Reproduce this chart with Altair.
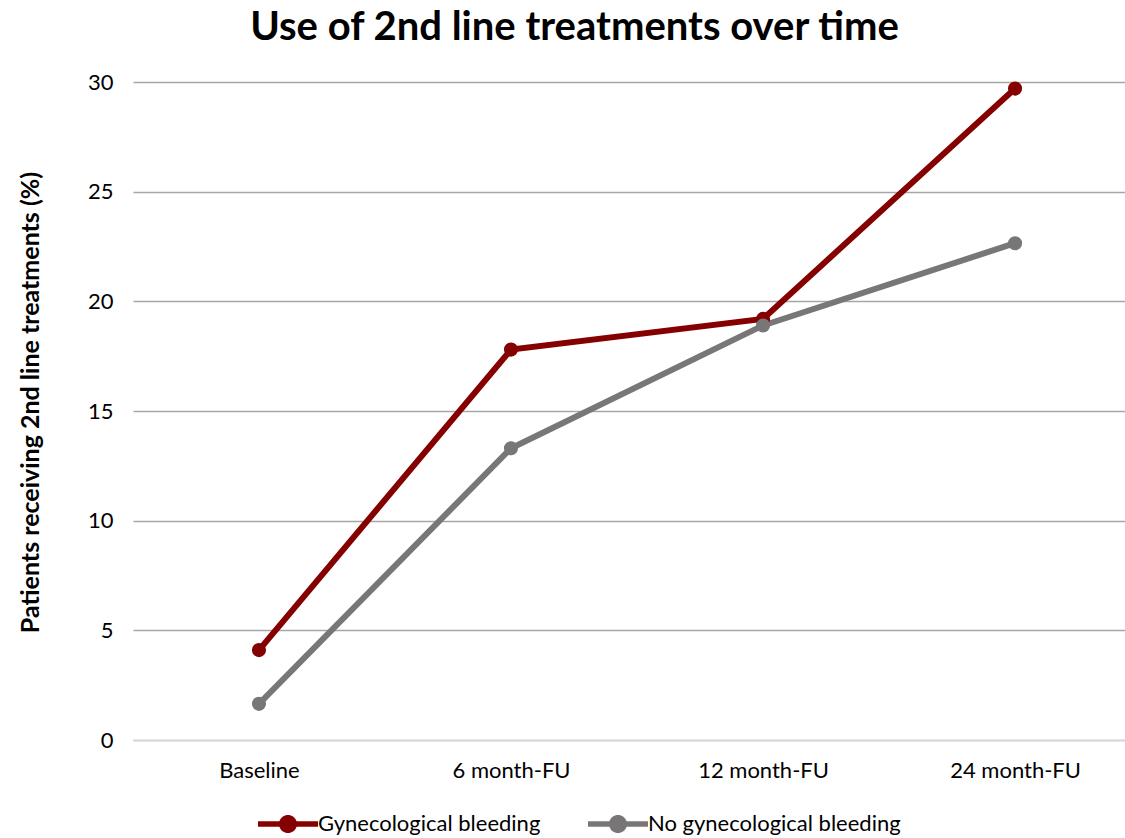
import altair as alt
import pandas as pd

timepoints = ["Baseline", "6 month-FU", "12 month-FU", "24 month-FU"]
bleeding = [4.1, 17.8, 19.2, 29.7]
no_bleeding = [1.65, 13.3, 18.9, 22.65]
series_names = ["Gynecological bleeding", "No gynecological bleeding"]
series_colors = ["#850000", "#787676"]

rows = []
for name, vals in zip(series_names, [bleeding, no_bleeding]):
    for t, v in zip(timepoints, vals):
        rows.append({"time": t, "value": v, "series": name})
df = pd.DataFrame(rows)

FONT = "Lato"

# line-with-dot legend glyph
glyph = ("M-1,-0.09 L-0.286,-0.09 A0.3,0.3 0 0,1 0.286,-0.09 L1,-0.09 "
         "L1,0.09 L0.286,0.09 A0.3,0.3 0 0,1 -0.286,0.09 L-1,0.09 Z")

x_enc = alt.X(
    "time:N",
    sort=timepoints,
    scale=alt.Scale(type="point", padding=0.468, align=0.534),
    axis=alt.Axis(
        title=None, labelAngle=0, ticks=False, labelPadding=20,
        labelFontSize=22, labelFont=FONT, labelColor="#000000",
        domainColor="#d9d9d9", domainWidth=1.5, grid=False,
    ),
)
y_enc = alt.Y(
    "value:Q",
    scale=alt.Scale(domain=[0, 30], nice=False),
    axis=alt.Axis(
        values=[0, 5, 10, 15, 20, 25, 30], ticks=False, domain=False,
        grid=True, gridColor="#a6a6a6", gridWidth=1.5,
        labelFontSize=22, labelFont=FONT, labelColor="#000000", labelPadding=20,
        title="Patients receiving 2nd line treatments (%)",
        titleFont=FONT, titleFontSize=25, titleFontWeight="bold", titleColor="#000000",
        titleAngle=-90, titleX=-103, titleY=320, titleAlign="center", titleBaseline="middle",
    ),
)
legend = alt.Legend(
    title=None, orient="none", direction="horizontal",
    legendX=125, legendY=712, symbolType=glyph, symbolSize=3600,
    symbolStrokeWidth=0, symbolOpacity=1, labelFont=FONT, labelFontSize=22,
    labelColor="#000000", labelOffset=0, labelLimit=500, columnPadding=47,
)
color_enc = alt.Color("series:N", scale=alt.Scale(domain=series_names, range=series_colors),
                      legend=legend)

lines = alt.Chart(df).mark_line(strokeWidth=6).encode(x=x_enc, y=y_enc, color=color_enc)
points = alt.Chart(df).mark_point(filled=True, size=200, opacity=1).encode(
    x=x_enc, y=y_enc, color=color_enc
)

chart = (
    alt.layer(lines, points)
    .properties(
        width=992, height=658,
        autosize=alt.AutoSizeParams(type="none"),
        padding={"left": 133, "top": 82, "right": 0, "bottom": 98},
        title=alt.Title(
            "Use of 2nd line treatments over time",
            font=FONT, fontSize=40, fontWeight="bold", color="#000000",
            anchor="middle", frame="bounds", dx=3, offset=23,
        ),
    )
    .configure_view(stroke=None)
)

chart.save("out.html", embed_options={"renderer": "svg", "actions": False})
